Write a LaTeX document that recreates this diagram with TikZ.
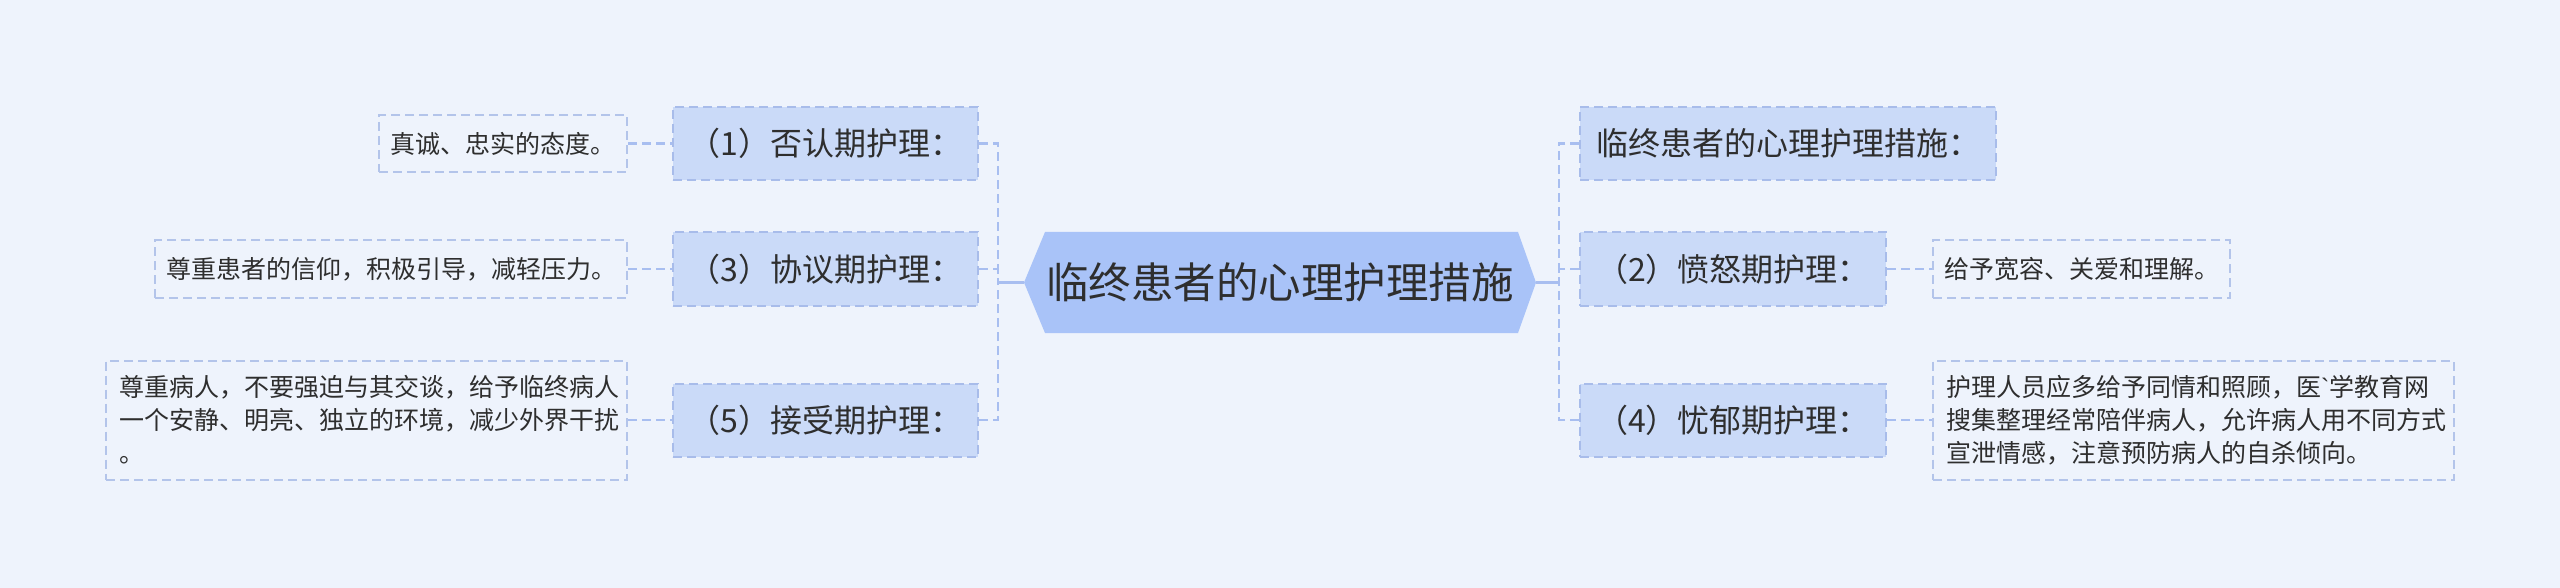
\documentclass[tikz,border=0pt]{standalone}
\usepackage{fontspec}
\setmainfont{Noto Sans CJK SC}
\newfontfamily\latinfont{Liberation Sans}
\usetikzlibrary{calc}
\definecolor{bgc}{HTML}{EEF3FC}
\definecolor{cfill}{HTML}{A9C3F8}
\definecolor{lfill}{HTML}{CADAF8}
\definecolor{lborder}{HTML}{A8BCEA}
\definecolor{leafborder}{HTML}{B3C4EA}
\definecolor{linec}{HTML}{A8BEF0}
\definecolor{txt}{HTML}{2E2E2E}
\tikzset{
  lvone/.style={draw=lborder, fill=lfill, line width=2pt, dash pattern=on 9pt off 5pt,
    inner sep=0pt, text=txt, font=\fontsize{32}{38}\selectfont, minimum height=73pt},
  leafbox/.style={draw=leafborder, line width=2pt, dash pattern=on 9pt off 5pt,
    inner sep=0pt, text=txt, font=\fontsize{25}{33}\selectfont, minimum height=57pt},
  dline/.style={draw=linec, line width=2.2pt, dash pattern=on 9pt off 5pt},
  sline/.style={draw=linec, line width=2.6pt},
}
\begin{document}
\begin{tikzpicture}[x=1pt,y=1pt]
\useasboundingbox[fill=bgc] (0,0) rectangle (2560,-588);
% central hexagon
\coordinate (cc) at (1280,-282.5);
\fill[cfill] ($(cc)+(-256,0)$) -- ($(cc)+(-235,50.5)$) -- ($(cc)+(238,50.5)$) -- ($(cc)+(256,0)$)
  -- ($(cc)+(238,-50.5)$) -- ($(cc)+(-235,-50.5)$) -- cycle;
\node[minimum width=512pt, minimum height=101pt, inner sep=0pt, text=txt,
  font=\fontsize{42.5}{48}\selectfont] (c) at (cc) {临终患者的心理护理措施};
% level one
\node[lvone, minimum width=305pt] (n1) at (825.5,-143.5) {（1）否认期护理：};
\node[lvone, minimum width=305pt] (n3) at (825.5,-269) {（3）协议期护理：};
\node[lvone, minimum width=305pt] (n5) at (825.5,-420) {（5）接受期护理：};
\node[lvone, minimum width=416pt] (r0) at (1788,-143.5) {临终患者的心理护理措施：};
\node[lvone, minimum width=306pt] (n2) at (1733,-269) {（2）愤怒期护理：};
\node[lvone, minimum width=306pt] (n4) at (1733,-420) {（4）忧郁期护理：};
% leaves
\node[leafbox, minimum width=248pt] (l1) at (503,-143.5) {真诚、忠实的态度。};
\node[leafbox, minimum width=472pt] (l3) at (391,-269) {尊重患者的信仰，积极引导，减轻压力。};
\node[leafbox, minimum width=521pt, minimum height=119pt, text width=495pt, align=left] (l5) at (366.5,-420)
  {尊重病人，不要强迫与其交谈，给予临终病人\\一个安静、明亮、独立的环境，减少外界干扰\\。};
\node[leafbox, minimum width=297pt] (l2) at (2081.5,-269) {给予宽容、关爱和理解。};
\node[leafbox, minimum width=521pt, minimum height=119pt, text width=495pt, align=left] (l4) at (2193.5,-420)
  {护理人员应多给予同情和照顾，医{\latinfont\symbol{96}}学教育网\\搜集整理经常陪伴病人，允许病人用不同方式\\宣泄情感，注意预防病人的自杀倾向。};
% junctions
\coordinate (jl) at (998,-282.5);
\coordinate (jr) at (1559,-282.5);
\draw[sline] (c.west) -- (jl);
\draw[sline] (c.east) -- (jr);
\draw[dline] (n1.east) -| (jl);
\draw[dline] (n3.east) -| (jl);
\draw[dline] (n5.east) -| (jl);
\draw[dline] (r0.west) -| (jr);
\draw[dline] (n2.west) -| (jr);
\draw[dline] (n4.west) -| (jr);
\draw[dline] (l1.east) -- (n1.west);
\draw[dline] (l3.east) -- (n3.west);
\draw[dline] (l5.east) -- (n5.west);
\draw[dline] (n2.east) -- (l2.west);
\draw[dline] (n4.east) -- (l4.west);
\end{tikzpicture}
\end{document}
